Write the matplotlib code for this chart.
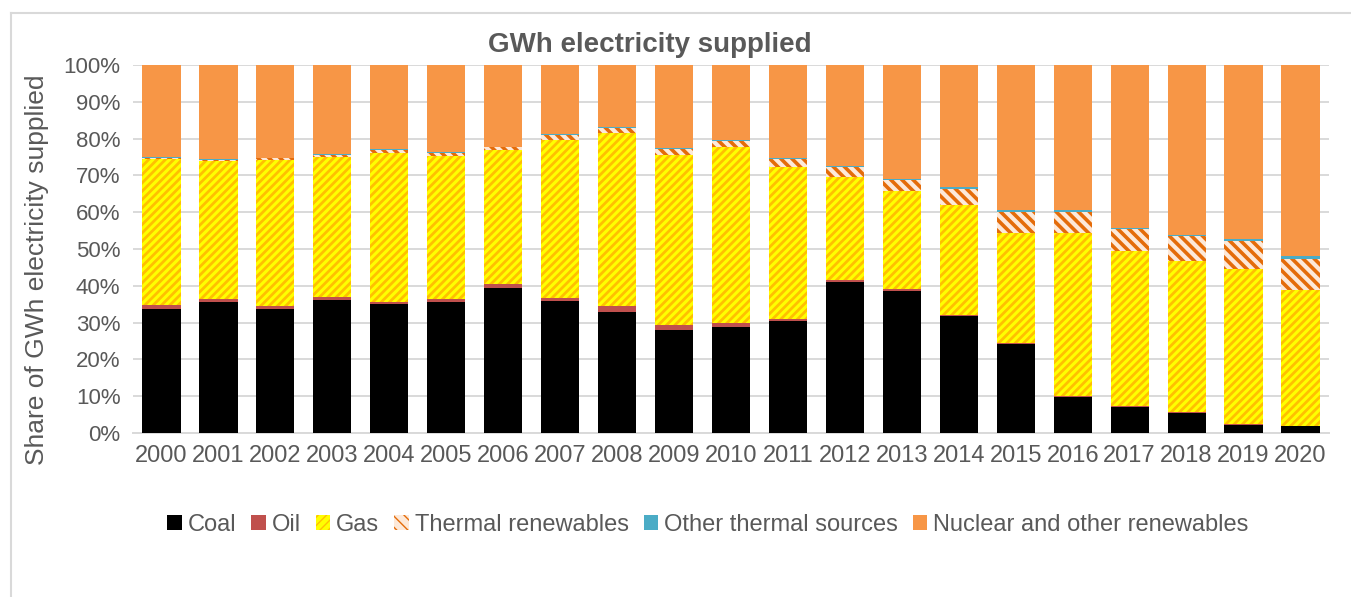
import matplotlib
matplotlib.use("Agg")
import matplotlib.pyplot as plt
from matplotlib.patches import Patch
from matplotlib.lines import Line2D
from matplotlib.ticker import FuncFormatter, MultipleLocator
import numpy as np

years = [str(y) for y in range(2000, 2021)]
coal = [33.7, 35.6, 33.7, 36.2, 35.1, 35.6, 39.4, 35.8, 33.0, 28.1, 28.8, 30.4, 41.1, 38.7, 31.9, 24.2, 9.8, 7.2, 5.5, 2.3, 1.8]
oil = [1.0, 0.8, 0.7, 0.8, 0.6, 0.8, 1.1, 0.9, 1.4, 1.3, 1.1, 0.6, 0.6, 0.3, 0.3, 0.2, 0.2, 0.2, 0.2, 0.2, 0.2]
gas = [39.7, 37.5, 39.9, 37.9, 40.5, 39.0, 36.3, 43.0, 47.1, 46.2, 47.8, 41.3, 27.9, 26.7, 29.8, 29.9, 44.3, 42.1, 41.1, 42.2, 36.9]
thermal_renewables = [0.3, 0.4, 0.3, 0.7, 0.8, 0.8, 0.8, 1.2, 1.4, 1.5, 1.7, 2.1, 2.6, 3.1, 4.4, 5.8, 5.8, 5.8, 6.6, 7.5, 8.3]
other_thermal = [0.2, 0.2, 0.2, 0.2, 0.2, 0.2, 0.2, 0.3, 0.2, 0.3, 0.3, 0.2, 0.3, 0.2, 0.4, 0.4, 0.4, 0.4, 0.4, 0.6, 0.8]
nuclear_other = [25.1, 25.5, 25.2, 24.2, 22.8, 23.6, 22.2, 18.8, 16.9, 22.6, 20.3, 25.4, 27.5, 31.0, 33.2, 39.5, 39.5, 44.3, 46.2, 47.2, 52.0]

series_names = ["Coal", "Oil", "Gas", "Thermal renewables", "Other thermal sources", "Nuclear and other renewables"]

TEXT = "#595959"
GRID = "#D9D9D9"
plt.rcParams['font.family'] = ['Liberation Sans', 'DejaVu Sans']

W, H = 1351, 597
fig = plt.figure(figsize=(W / 100, H / 100), dpi=100)
ax = fig.add_axes([133 / W, 1 - 433 / H, (1329 - 133) / W, (433 - 65) / H])

styles = [
    dict(face="#000000", hc="#000000", hatch=None, hlw=1.0),
    dict(face="#C0504D", hc="#C0504D", hatch=None, hlw=1.0),
    dict(face="#FFFF00", hc="#FFC000", hatch="////", hlw=2.0),
    dict(face="#FDE9D9", hc="#E46C0A", hatch="\\\\\\", hlw=2.6),
    dict(face="#4BACC6", hc="#4BACC6", hatch=None, hlw=1.0),
    dict(face="#F79646", hc="#F79646", hatch=None, hlw=1.0),
]
data = [coal, oil, gas, thermal_renewables, other_thermal, nuclear_other]

x = np.arange(len(years))
bottom = np.zeros(len(years))
for vals, st in zip(data, styles):
    with plt.rc_context({'hatch.linewidth': st['hlw']}):
        bars = ax.bar(x, vals, width=0.67, bottom=bottom, color=st['face'],
                      edgecolor=st['hc'], linewidth=0, hatch=st['hatch'], zorder=3)
        if st['hatch']:
            for b in bars:
                if hasattr(b, 'set_hatch_linewidth'):
                    b.set_hatch_linewidth(st['hlw'])
    bottom += np.array(vals)

ax.set_xlim(-0.5, len(years) - 0.5)
ax.set_ylim(0, 100)
ax.yaxis.set_major_locator(MultipleLocator(10))
ax.yaxis.set_major_formatter(FuncFormatter(lambda v, p: f"{int(round(v))}%"))
ax.set_xticks(x)
ax.set_xticklabels(years)
ax.grid(axis='y', color=GRID, linewidth=1.4, zorder=0)
for s in ['top', 'right', 'left']:
    ax.spines[s].set_visible(False)
ax.spines['bottom'].set_color(GRID)
ax.spines['bottom'].set_linewidth(1.4)
ax.tick_params(axis='both', length=0, colors=TEXT)
ax.tick_params(axis='y', pad=9, labelsize=16)
ax.tick_params(axis='x', pad=9, labelsize=17)

ax.set_ylabel("Share of GWh electricity supplied", fontsize=19, color=TEXT)
ax.yaxis.set_label_coords((49 - 133) / 1196, (433 - 270) / 368)
fig.text(650 / W, 1 - 45 / H, "GWh electricity supplied", ha='center', va='center',
         fontsize=20, fontweight='bold', color=TEXT)

handles = []
for st, name in zip(styles, series_names):
    with plt.rc_context({'hatch.linewidth': st['hlw']}):
        p = Patch(facecolor=st['face'], edgecolor=st['hc'], linewidth=0, hatch=st['hatch'], label=name)
        if st['hatch'] and hasattr(p, 'set_hatch_linewidth'):
            p.set_hatch_linewidth(st['hlw'])
    handles.append(p)
leg = fig.legend(handles=handles, loc='center', bbox_to_anchor=(708 / W, 1 - 525 / H), ncol=6,
                 frameon=False, fontsize=17, handlelength=0.6, handleheight=0.6,
                 handletextpad=0.25, columnspacing=0.65, borderaxespad=0)
for t in leg.get_texts():
    t.set_color(TEXT)

fig.add_artist(Line2D([11 / W, 1.0], [1 - 13 / H, 1 - 13 / H], color=GRID, linewidth=1.5, transform=fig.transFigure))
fig.add_artist(Line2D([11 / W, 11 / W], [0, 1 - 13 / H], color=GRID, linewidth=1.5, transform=fig.transFigure))

fig.savefig("out.png", dpi=100)
